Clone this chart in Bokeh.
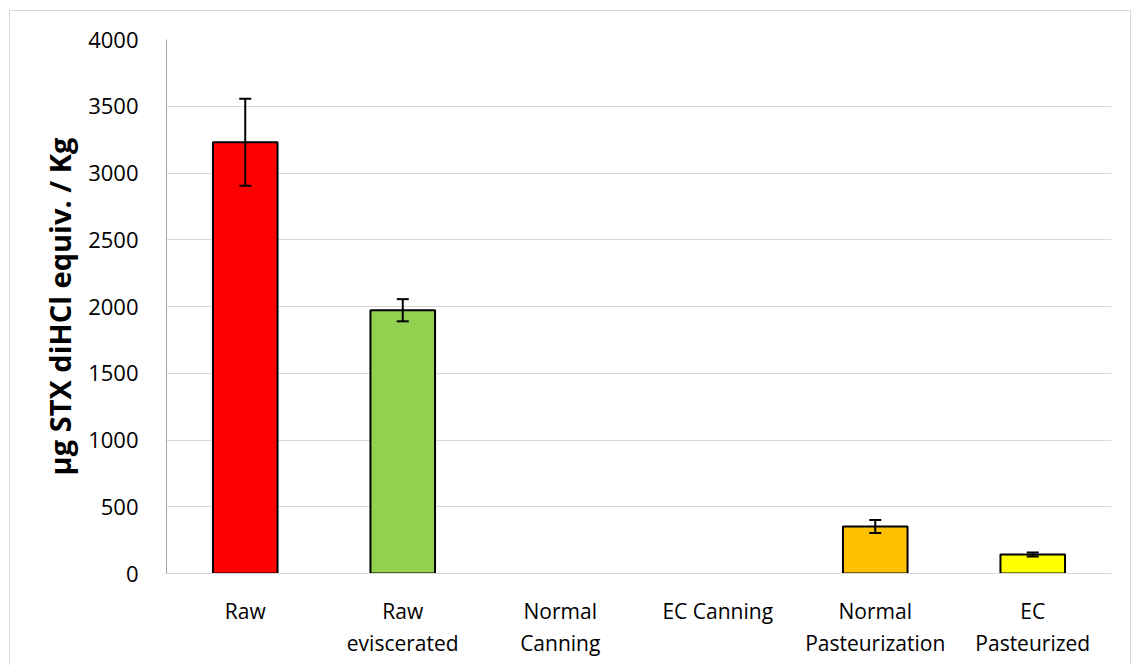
from bokeh.plotting import figure
from bokeh.models import ColumnDataSource, Whisker, TeeHead, FactorRange
from bokeh.embed import file_html
from bokeh.resources import INLINE

categories = ["Raw", "Raw\neviscerated", "Normal\nCanning", "EC Canning",
              "Normal\nPasteurization", "EC\nPasteurized"]
values = [3230, 1972, 0, 0, 352, 142]
errors = [326, 83, 0, 0, 48, 15]
colors = ["#FF0000", "#92D050", "#FFFFFF", "#FFFFFF", "#FFC000", "#FFFF00"]
y_ticks = [0, 500, 1000, 1500, 2000, 2500, 3000, 3500, 4000]
y_title = "µg STX diHCl equiv. / Kg"

FONT = "Open Sans"

p = figure(x_range=FactorRange(factors=categories, range_padding=0),
           y_range=(0, 4000), frame_width=945, frame_height=534,
           output_backend="svg", toolbar_location=None,
           min_border_left=156, min_border_right=19, min_border_top=28,
           min_border_bottom=92)
p.styles = {"margin-left": "9px", "margin-top": "10px",
            "border-left": "1px solid #D9D9D9", "border-top": "1px solid #D9D9D9",
            "border-right": "1px solid #D9D9D9"}
p.outline_line_color = None
p.background_fill_color = "white"
p.border_fill_color = "white"

bars = ColumnDataSource(dict(
    x=categories, top=values, color=colors,
    line=["black" if v > 0 else None for v in values]))
p.vbar(x="x", top="top", width=0.41, source=bars, fill_color="color",
       line_color="line", line_width=2)

ex = [c for c, e in zip(categories, errors) if e > 0]
ev = [v for v, e in zip(values, errors) if e > 0]
ee = [e for e in errors if e > 0]
err = ColumnDataSource(dict(x=ex, lo=[v - e for v, e in zip(ev, ee)],
                            hi=[v + e for v, e in zip(ev, ee)]))
w = Whisker(base="x", lower="lo", upper="hi", source=err, line_color="black",
            line_width=2, level="overlay",
            upper_head=TeeHead(size=12, line_color="black", line_width=2),
            lower_head=TeeHead(size=12, line_color="black", line_width=2))
p.add_layout(w)

p.yaxis.ticker = y_ticks
p.ygrid.grid_line_color = "#D9D9D9"
p.ygrid.grid_line_width = 1
p.xgrid.grid_line_color = None

p.yaxis.axis_line_color = "#A6A6A6"
p.yaxis.major_tick_line_color = None
p.yaxis.minor_tick_line_color = None
p.yaxis.major_label_text_font = FONT
p.yaxis.major_label_text_font_size = "22px"
p.yaxis.major_label_text_color = "black"
p.yaxis.major_label_standoff = 22
p.yaxis.axis_label = y_title
p.yaxis.axis_label_text_font = FONT
p.yaxis.axis_label_text_font_size = "29px"
p.yaxis.axis_label_text_font_style = "bold"
p.yaxis.axis_label_text_color = "black"
p.yaxis.axis_label_standoff = 6

p.xaxis.axis_line_color = "#D9D9D9"
p.xaxis.major_tick_line_color = None
p.xaxis.minor_tick_line_color = None
p.xaxis.major_label_text_font = FONT
p.xaxis.major_label_text_font_size = "21px"
p.xaxis.major_label_text_line_height = 1.15
p.xaxis.major_label_text_color = "black"
p.xaxis.major_label_standoff = 17

open("out.html", "w").write(file_html(p, INLINE))
